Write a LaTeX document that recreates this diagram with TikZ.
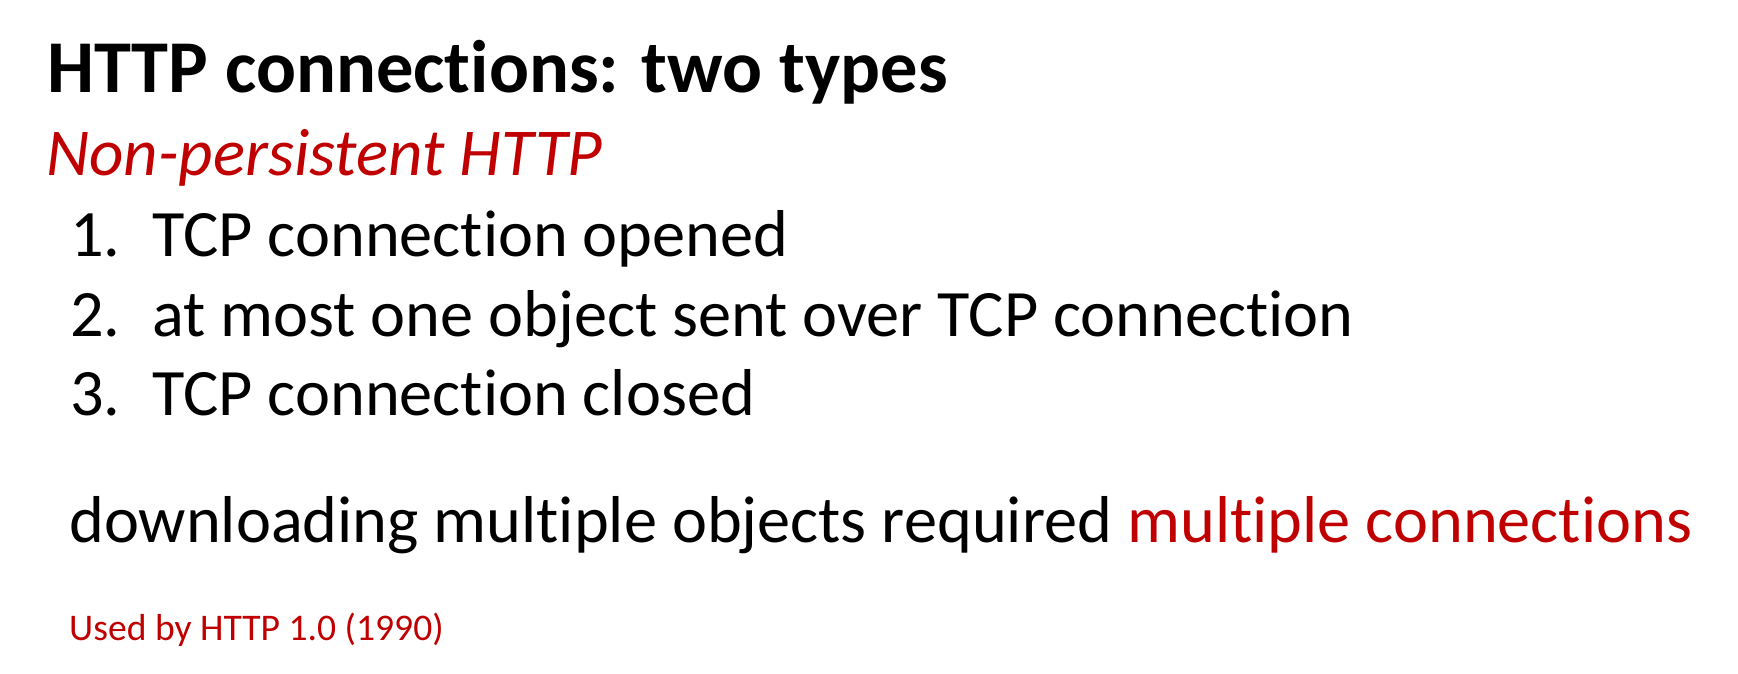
\documentclass[tikz,border=0pt]{standalone}
\usepackage{xcolor}
\usepackage{fontspec}
\setmainfont{Carlito}[Ligatures=NoCommon]
\definecolor{slidered}{HTML}{C00000}

\begin{document}
\begin{tikzpicture}[x=1pt,y=-1pt,every node/.style={anchor=base west,inner sep=0pt},
    title/.style={font=\fontsize{74.5}{84}\selectfont\bfseries},
    subtitle/.style={font=\fontsize{67}{80}\selectfont\itshape,text=slidered},
    body/.style={font=\fontsize{66.3}{80}\selectfont},
    footnote/.style={font=\fontsize{37.6}{45}\selectfont,text=slidered}]
      \useasboundingbox (0,0) rectangle (1738,673);
      \node[title] (title) at (47,92) {HTTP connections: two types};
      \node[subtitle] (kind) at (46,175) {Non-persistent HTTP};
      % numbered steps
      \node[body] (numone) at (70,256) {1.};
      \node[body] (stepone) at (152,256) {TCP connection opened};
      \node[body] (numtwo) at (70,336) {2.};
      \node[body] (steptwo) at (152,336) {at most one object sent over TCP connection};
      \node[body] (numthree) at (70,415) {3.};
      \node[body] (stepthree) at (152,415) {TCP connection closed};
      \node[body] (result) at (69,542) {downloading multiple objects required \textcolor{slidered}{multiple connections}};
      \node[footnote] (used) at (69,640) {Used by HTTP 1.0 (1990)};
\end{tikzpicture}
\end{document}
